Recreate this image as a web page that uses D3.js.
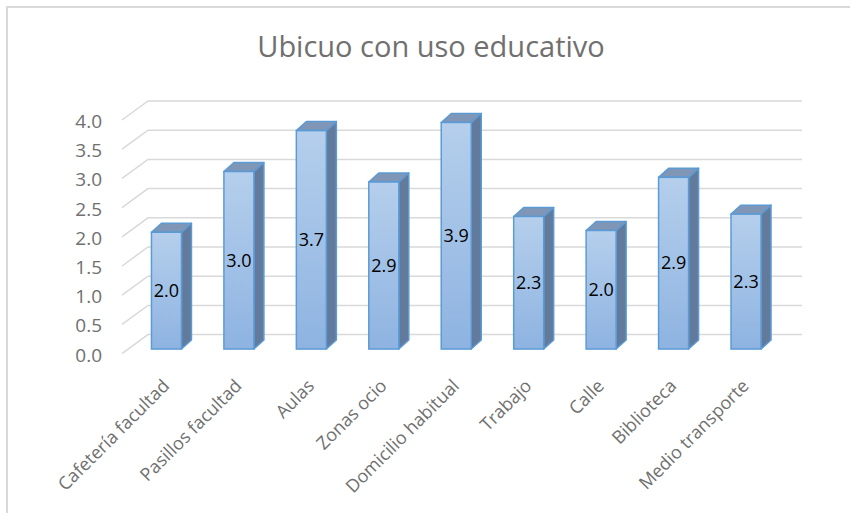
<!DOCTYPE html>
<html>
<head>
<meta charset="utf-8">
<script src="https://cdn.jsdelivr.net/npm/d3@7"></script>
<style>
  body { margin: 0; background: #fff; }
  svg { display: block; font-family: 'Open Sans', sans-serif; }
</style>
</head>
<body>
<div id="chart"></div>
<script>
const title = 'Ubicuo con uso educativo';
const categories = ['Cafetería facultad', 'Pasillos facultad', 'Aulas', 'Zonas ocio',
    'Domicilio habitual', 'Trabajo', 'Calle', 'Biblioteca', 'Medio transporte'];
const values = [2.0, 3.04, 3.74, 2.86, 3.88, 2.27, 2.03, 2.94, 2.31];
const yTicks = [0, 0.5, 1, 1.5, 2, 2.5, 3, 3.5, 4];

const svgWidth = 850;
const svgHeight = 513;

// 3d look: wall depth and bar depth offsets
const wallDx = 26, wallDy = -19;
const barFront = 0.24;           // fraction of wall depth where bar fronts sit
const barDx = 10, barDy = -9;
const barWidth = 30;

const svg = d3.select('#chart')
    .append('svg')
    .attr('width', svgWidth)
    .attr('height', svgHeight);

// chart border
svg.append('rect')
    .attr('x', 7).attr('y', 7)
    .attr('width', 900).attr('height', 600)
    .attr('fill', 'none')
    .attr('stroke', '#d9d9d9')
    .attr('stroke-width', 2);

svg.append('text')
    .attr('x', 431)
    .attr('y', 57)
    .attr('text-anchor', 'middle')
    .attr('font-size', 29)
    .attr('fill', '#707070')
    .text(title);

const xScale = d3.scaleBand()
    .domain(categories)
    .range([124, 776]);

const yScale = d3.scaleLinear()
    .domain([0, 4])
    .range([353.6, 120]);

// gridlines: side wall diagonal + back wall horizontal
svg.append('g')
    .selectAll('path')
    .data(yTicks)
    .join('path')
    .attr('d', d => {
        const y = yScale(d);
        return `M122,${y}L${122 + wallDx},${y + wallDy}L${776 + wallDx},${y + wallDy}`;
    })
    .attr('fill', 'none')
    .attr('stroke', '#d9d9d9')
    .attr('stroke-width', 1.5);

const yAxisGroup = svg.append('g')
    .attr('transform', 'translate(105, 1.5)')
    .call(d3.axisLeft(yScale)
        .tickValues(yTicks)
        .tickSize(0)
        .tickFormat(d3.format('.1f')));
yAxisGroup.select('.domain').remove();
yAxisGroup.selectAll('text')
    .attr('font-family', "'Open Sans', sans-serif")
    .attr('font-size', 19)
    .attr('fill', '#707070');

// gradient for bar fronts
const grad = svg.append('defs').append('linearGradient')
    .attr('id', 'barGrad')
    .attr('x1', 0).attr('y1', 0).attr('x2', 0).attr('y2', 1);
grad.append('stop').attr('offset', '0%').attr('stop-color', '#b5cfec');
grad.append('stop').attr('offset', '100%').attr('stop-color', '#8eb3e1');

const ox = wallDx * barFront, oy = wallDy * barFront;
const bars = svg.append('g')
    .selectAll('g')
    .data(categories.map((c, i) => ({ c, v: values[i] })))
    .join('g');

const x0 = d => xScale(d.c) + xScale.bandwidth() / 2 + ox - barWidth / 2;
const yTop = d => yScale(d.v) + oy;
const yBot = yScale(0) + oy;

// side face
bars.append('path')
    .attr('d', d => {
        const x = x0(d) + barWidth;
        return `M${x},${yTop(d)}L${x + barDx},${yTop(d) + barDy}L${x + barDx},${yBot + barDy}L${x},${yBot}Z`;
    })
    .attr('fill', '#627b9c')
    .attr('stroke', '#5b9bd5')
    .attr('stroke-width', 1.5)
    .attr('stroke-linejoin', 'round');

// top face
bars.append('path')
    .attr('d', d => {
        const x = x0(d), y = yTop(d);
        return `M${x},${y}L${x + barDx},${y + barDy}L${x + barWidth + barDx},${y + barDy}L${x + barWidth},${y}Z`;
    })
    .attr('fill', '#7f96b6')
    .attr('stroke', '#5b9bd5')
    .attr('stroke-width', 1.5)
    .attr('stroke-linejoin', 'round');

// front face
bars.append('rect')
    .attr('x', x0)
    .attr('y', yTop)
    .attr('width', barWidth)
    .attr('height', d => yBot - yTop(d))
    .attr('fill', 'url(#barGrad)')
    .attr('stroke', '#5b9bd5')
    .attr('stroke-width', 1.5);

// data labels
bars.append('text')
    .attr('x', d => x0(d) + barWidth / 2)
    .attr('y', d => (yTop(d) + yBot) / 2)
    .attr('dy', '0.35em')
    .attr('text-anchor', 'middle')
    .attr('font-size', 18)
    .attr('fill', '#000')
    .text(d => d3.format('.1f')(d.v));

// category labels
svg.append('g')
    .selectAll('text')
    .data(categories)
    .join('text')
    .attr('transform', d => `translate(${xScale(d) + xScale.bandwidth() / 2 + ox + 4}, 387) rotate(-45)`)
    .attr('text-anchor', 'end')
    .attr('font-size', 18)
    .attr('fill', '#707070')
    .text(d => d);
</script>
</body>
</html>
